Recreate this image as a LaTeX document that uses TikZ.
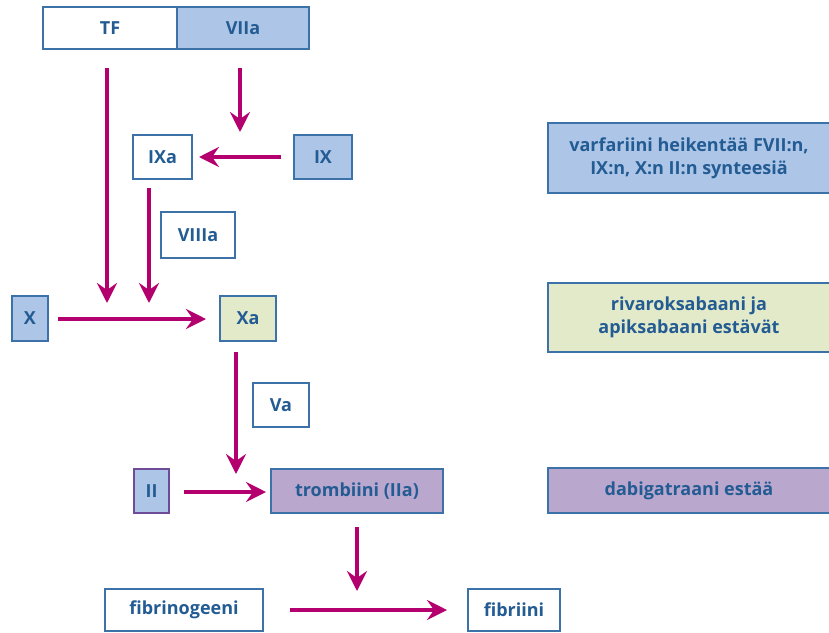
\documentclass[tikz,border=0pt]{standalone}
\usepackage{fontspec}
\setmainfont{Open Sans}
\usetikzlibrary{arrows.meta,calc}
\definecolor{txt}{HTML}{235B93}
\definecolor{bord}{HTML}{3C72A8}
\definecolor{fblue}{HTML}{ADC6E7}
\definecolor{fgreen}{HTML}{E3EAC9}
\definecolor{fpurp}{HTML}{B9A7CD}
\definecolor{pbord}{HTML}{6E4C97}
\definecolor{arr}{HTML}{B3006E}
\tikzset{
  box/.style={draw=bord, line width=2pt, fill=white, text=txt, font=\fontsize{18}{23}\selectfont\bfseries, inner sep=0pt, align=center},
  bluebox/.style={box, fill=fblue},
  greenbox/.style={box, fill=fgreen},
  purpbox/.style={box, fill=fpurp},
  flow/.style={draw=arr, line width=4pt, -{Stealth[length=20pt,width=20pt,inset=7pt]}}
}
\begin{document}
\begin{tikzpicture}[x=1pt,y=-1pt]
\useasboundingbox (0,0) rectangle (829,632);
\node[box, minimum width=135pt, minimum height=42pt] (TF) at (110,28) {TF};
\node[bluebox, minimum width=132pt, minimum height=42pt] (VIIa) at (243,28) {VIIa};
\node[box, minimum width=59pt, minimum height=44pt] (IXa) at (162.5,157) {IXa};
\node[bluebox, minimum width=58pt, minimum height=44pt] (IX) at (323,157) {IX};
\node[box, minimum width=74pt, minimum height=46pt] (VIIIa) at (198,235) {VIIIa};
\node[bluebox, minimum width=36pt, minimum height=45pt] (X) at (30,318.5) {X};
\node[greenbox, minimum width=56pt, minimum height=45pt] (Xa) at (248,318.5) {Xa};
\node[box, minimum width=56pt, minimum height=44pt] (Va) at (281,405) {Va};
\node[bluebox, draw=pbord, minimum width=35pt, minimum height=44pt] (II) at (151.5,491) {II};
\node[purpbox, minimum width=172pt, minimum height=44pt] (IIa) at (357,491) {trombiini (IIa)};
\node[bluebox, minimum width=283pt, minimum height=70pt] (warf) at (689,158) {varfariini heikentää FVII:n,\\IX:n, X:n II:n synteesiä};
\node[greenbox, minimum width=283pt, minimum height=69pt] (riva) at (689,317.5) {rivaroksabaani ja\\apiksabaani estävät};
\node[purpbox, minimum width=283pt, minimum height=45pt] (dabi) at (689,490.5) {dabigatraani estää};
\node[box, minimum width=158pt, minimum height=42pt] (fgen) at (184,610) {fibrinogeeni};
\node[box, minimum width=92pt, minimum height=42pt] (fib) at (514,610) {fibriini};

\coordinate (tfs) at (107,68);
\coordinate (tfe) at (107,303);
\coordinate (vs) at (240,68);
\coordinate (ve) at (240,132);
\coordinate (ixs) at (149,188);
\coordinate (ixe) at (149,303);
\coordinate (xas) at (236,352);
\coordinate (xae) at (236,474);
\coordinate (ts) at (357,527);
\coordinate (te) at (357,591);

\draw[flow] (tfs) -- (tfe);
\draw[flow] (vs) -- (ve);
\draw[flow] (IX.west) ++(-12,0) -- ($(IXa.east)+(6,0)$);
\draw[flow] (ixs) -- (ixe);
\draw[flow] ($(X.east)+(9,0.5)$) -- ($(Xa.west)+(-13,0.5)$);
\draw[flow] (xas) -- (xae);
\draw[flow] ($(II.east)+(14,1)$) -- ($(IIa.west)+(-4,1)$);
\draw[flow] (ts) -- (te);
\draw[flow] ($(fgen.east)+(26,0)$) -- ($(fib.west)+(-20,0)$);
\end{tikzpicture}
\end{document}
